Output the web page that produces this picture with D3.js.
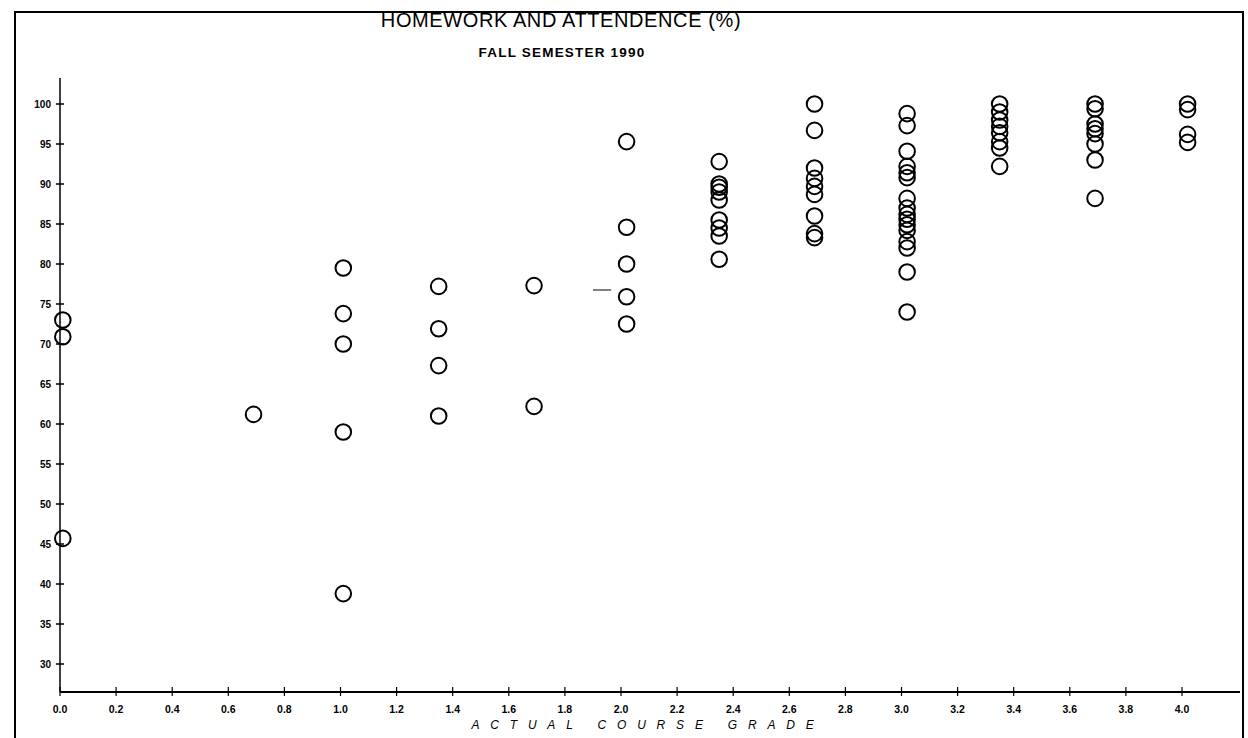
<!DOCTYPE html>
<html>
<head>
<meta charset="utf-8">
<script src="https://cdn.jsdelivr.net/npm/d3@7"></script>
<style>
  html, body { margin: 0; padding: 0; background: #fff; }
  svg { display: block; }
</style>
</head>
<body>
<svg id="chart" width="1248" height="738"></svg>
<script>
// ---- data ----
const titleText = "HOMEWORK AND ATTENDENCE (%)";
const subtitleText = "FALL SEMESTER 1990";
const xLabelText = "ACTUAL COURSE GRADE";
const xTicks = [0.0, 0.2, 0.4, 0.6, 0.8, 1.0, 1.2, 1.4, 1.6, 1.8, 2.0, 2.2, 2.4, 2.6, 2.8, 3.0, 3.2, 3.4, 3.6, 3.8, 4.0];
const yTicks = [30, 35, 40, 45, 50, 55, 60, 65, 70, 75, 80, 85, 90, 95, 100];

// grade column positions (as plotted) and homework/attendance scores per column
const gradeColumns = [0.01, 0.69, 1.01, 1.35, 1.69, 2.02, 2.35, 2.69, 3.02, 3.35, 3.69, 4.02];
const scores = [
  [73.0, 70.9, 45.7],
  [61.2],
  [79.5, 73.8, 70.0, 59.0, 38.8],
  [77.2, 71.9, 67.3, 61.0],
  [77.3, 62.2],
  [95.3, 84.6, 80.0, 75.9, 72.5],
  [92.8, 90.0, 89.6, 89.0, 88.0, 85.5, 84.5, 83.5, 80.6],
  [100.0, 96.7, 92.0, 90.7, 89.7, 88.7, 86.0, 83.8, 83.3],
  [98.8, 97.3, 94.1, 92.2, 91.4, 90.8, 88.2, 87.0, 86.2, 85.6, 84.9, 84.2, 82.8, 82.0, 79.0, 74.0],
  [100.0, 99.0, 98.0, 97.2, 96.4, 95.3, 94.5, 92.2],
  [100.0, 99.4, 97.5, 96.9, 96.3, 95.0, 93.0, 88.2],
  [100.0, 99.3, 96.2, 95.2]
];
// small stray dash on the scanned sheet (grade from, grade to, score)
const strayMark = [1.90, 1.965, 76.75];

// ---- drawing ----
const svg = d3.select("#chart");
const x = d3.scaleLinear().domain([0, 4]).range([60, 1182]);
const y = d3.scaleLinear().domain([30, 100]).range([664, 104]);
const xMax = x.invert(1240);
const yMin = y.invert(692);
const yMax = y.invert(78);
const font = "Liberation Sans, Arial, sans-serif";

// frame
svg.append("path")
  .attr("d", "M15,745 L15,12 L1243,12 L1243,745")
  .attr("fill", "none").attr("stroke", "#000").attr("stroke-width", 2);

// titles
svg.append("text").attr("x", 561).attr("y", 27)
  .attr("text-anchor", "middle")
  .attr("font-family", font)
  .attr("letter-spacing", "0.6")
  .attr("font-size", 20).text(titleText);
svg.append("text").attr("x", 562).attr("y", 57)
  .attr("text-anchor", "middle")
  .attr("font-family", font)
  .attr("font-weight", "bold")
  .attr("letter-spacing", "1.2")
  .attr("font-size", 13.5).text(subtitleText);

// axes lines
svg.append("line")
  .attr("x1", x(0)).attr("x2", x(0)).attr("y1", y(yMax)).attr("y2", y(yMin))
  .attr("stroke", "#000").attr("stroke-width", 1.5);
svg.append("line")
  .attr("x1", x(0)).attr("x2", x(xMax)).attr("y1", y(yMin)).attr("y2", y(yMin))
  .attr("stroke", "#000").attr("stroke-width", 2.2);

// y ticks (crossing) and labels
const yg = svg.append("g");
yg.selectAll("line").data(yTicks).join("line")
  .attr("x1", x(0) - 4).attr("x2", x(0) + 4)
  .attr("y1", d => y(d)).attr("y2", d => y(d))
  .attr("stroke", "#000").attr("stroke-width", 1.5);
yg.selectAll("text").data(yTicks).join("text")
  .attr("x", x(0) - 9).attr("y", d => y(d) + 3.5)
  .attr("text-anchor", "end")
  .attr("font-family", font)
  .attr("font-weight", "bold").attr("font-size", 10)
  .text(d => d);

// x ticks (crossing) and labels
const xg = svg.append("g");
xg.selectAll("line").data(xTicks).join("line")
  .attr("x1", d => x(d)).attr("x2", d => x(d))
  .attr("y1", y(yMin) - 5).attr("y2", y(yMin) + 4)
  .attr("stroke", "#000").attr("stroke-width", 1.2);
xg.selectAll("text").data(xTicks).join("text")
  .attr("x", d => x(d)).attr("y", 713)
  .attr("text-anchor", "middle")
  .attr("font-family", font)
  .attr("font-weight", "bold").attr("font-size", 10.5)
  .text(d => d3.format(".1f")(d));

// x axis title
svg.append("text").attr("x", 648).attr("y", 729)
  .attr("text-anchor", "middle")
  .attr("font-family", font)
  .attr("font-style", "italic").attr("font-size", 12)
  .attr("letter-spacing", "10.8")
  .text(xLabelText.split(" ").join("  "));

// stray dash
svg.append("line")
  .attr("x1", x(strayMark[0])).attr("x2", x(strayMark[1]))
  .attr("y1", y(strayMark[2])).attr("y2", y(strayMark[2]))
  .attr("stroke", "#000").attr("stroke-width", 1);

// points
const pts = [];
gradeColumns.forEach((g, i) => scores[i].forEach(s => pts.push([g, s])));
svg.append("g").selectAll("circle").data(pts).join("circle")
  .attr("cx", d => x(d[0])).attr("cy", d => y(d[1])).attr("r", 7.8)
  .attr("fill", "none").attr("stroke", "#000").attr("stroke-width", 2);
</script>
</body>
</html>
